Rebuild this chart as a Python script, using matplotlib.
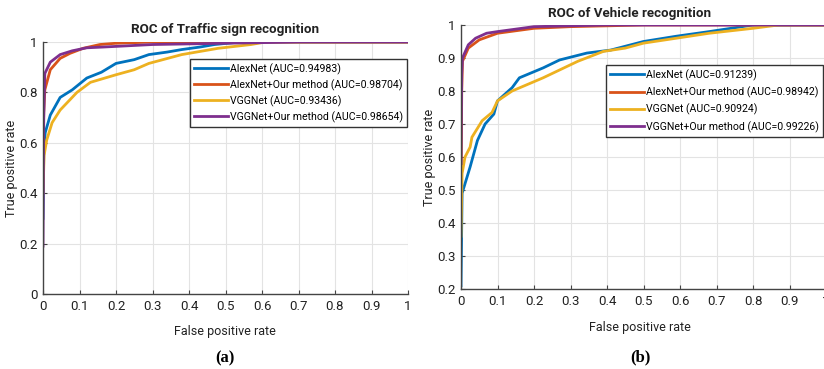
import matplotlib.pyplot as plt

plt.rcParams['font.family'] = ['Roboto', 'Liberation Sans', 'DejaVu Sans']

# colours (MATLAB default order)
c_alex = '#0072BD'
c_alex_our = '#D95319'
c_vgg = '#EDB120'
c_vgg_our = '#7E2F8E'

labels_a = ['AlexNet (AUC=0.94983)', 'AlexNet+Our method (AUC=0.98704)',
            'VGGNet (AUC=0.93436)', 'VGGNet+Our method (AUC=0.98654)']
labels_b = ['AlexNet (AUC=0.91239)', 'AlexNet+Our method (AUC=0.98942)',
            'VGGNet (AUC=0.90924)', 'VGGNet+Our method (AUC=0.99226)']

# (a) Traffic sign recognition
a_alex_fpr = [0, 0.002, 0.006, 0.02, 0.047, 0.08, 0.12, 0.16, 0.2, 0.25, 0.29, 0.34, 0.38, 0.43, 0.47, 0.54, 1]
a_alex_tpr = [0.30, 0.55, 0.64, 0.71, 0.78, 0.81, 0.857, 0.88, 0.915, 0.93, 0.95, 0.96, 0.97, 0.98, 0.99, 1.0, 1.0]
a_alexour_fpr = [0, 0.002, 0.005, 0.02, 0.047, 0.074, 0.11, 0.156, 0.2, 0.3, 1]
a_alexour_tpr = [0.46, 0.72, 0.81, 0.89, 0.935, 0.955, 0.975, 0.99, 0.995, 1.0, 1.0]
a_vgg_fpr = [0, 0.003, 0.01, 0.025, 0.047, 0.093, 0.13, 0.2, 0.25, 0.29, 0.38, 0.48, 0.57, 0.61, 1]
a_vgg_tpr = [0.40, 0.55, 0.61, 0.68, 0.73, 0.80, 0.84, 0.87, 0.89, 0.915, 0.95, 0.975, 0.99, 1.0, 1.0]
a_vggour_fpr = [0, 0.002, 0.005, 0.02, 0.047, 0.08, 0.12, 0.165, 0.3, 0.5, 0.7, 1]
a_vggour_tpr = [0.19, 0.70, 0.875, 0.92, 0.95, 0.965, 0.977, 0.98, 0.99, 0.995, 1.0, 1.0]

# (b) Vehicle recognition
b_alex_fpr = [0, 0.003, 0.025, 0.045, 0.066, 0.09, 0.1, 0.14, 0.16, 0.225, 0.27, 0.345, 0.41, 0.5, 0.59, 0.68, 0.77, 0.8, 1]
b_alex_tpr = [0.21, 0.49, 0.57, 0.65, 0.70, 0.73, 0.77, 0.81, 0.84, 0.87, 0.894, 0.915, 0.924, 0.95, 0.966, 0.98, 0.995, 1.0, 1.0]
b_alexour_fpr = [0, 0.002, 0.004, 0.02, 0.05, 0.075, 0.1, 0.2, 0.3, 0.5, 1]
b_alexour_tpr = [0.49, 0.80, 0.89, 0.93, 0.955, 0.965, 0.975, 0.99, 0.995, 1.0, 1.0]
b_vgg_fpr = [0, 0.003, 0.011, 0.025, 0.03, 0.058, 0.085, 0.1, 0.14, 0.225, 0.32, 0.39, 0.45, 0.5, 0.59, 0.68, 0.8, 0.87, 1]
b_vgg_tpr = [0.36, 0.55, 0.60, 0.63, 0.66, 0.71, 0.735, 0.77, 0.80, 0.84, 0.89, 0.92, 0.93, 0.945, 0.96, 0.975, 0.99, 1.0, 1.0]
b_vggour_fpr = [0, 0.002, 0.004, 0.02, 0.04, 0.07, 0.1, 0.2, 0.4, 1]
b_vggour_tpr = [0.58, 0.85, 0.90, 0.94, 0.96, 0.975, 0.98, 0.995, 1.0, 1.0]

fig = plt.figure(figsize=(8.24, 3.69), dpi=100)
W, H = 824, 369


def style_axes(ax, ylo, yticks):
    ax.set_xlim(0, 1)
    ax.set_ylim(ylo, 1)
    ax.set_xticks([i / 10 for i in range(11)])
    ax.set_xticklabels(['0'] + ['0.%d' % i for i in range(1, 10)] + ['1'])
    ax.set_yticks(yticks)
    ax.set_yticklabels(['%g' % t for t in yticks])
    ax.grid(True, color='#e3e3e3', linewidth=0.8)
    ax.set_axisbelow(True)
    for s in ['top', 'right']:
        ax.spines[s].set_visible(False)
    for s in ['left', 'bottom']:
        ax.spines[s].set_color('#444444')
        ax.spines[s].set_linewidth(1.0)
    ax.tick_params(direction='in', length=3, width=0.8, colors='#444444',
                   labelcolor='#222222', labelsize=9.5, pad=4)


def add_legend(ax, right, top, gap):
    ax.legend(loc='upper right', bbox_to_anchor=(right / W, 1 - top / H),
              bbox_transform=fig.transFigure, fontsize=7.6, frameon=True,
              fancybox=False, edgecolor='#333333', framealpha=1,
              handlelength=3.2, handletextpad=0.15, borderpad=0.4,
              labelspacing=gap, borderaxespad=0)


# panel (a)
ax1 = fig.add_axes([43 / W, 1 - 294 / H, 365 / W, 252 / H])
ax1.plot(a_alex_fpr, a_alex_tpr, color=c_alex, lw=2, label=labels_a[0])
ax1.plot(a_alexour_fpr, a_alexour_tpr, color=c_alex_our, lw=2, label=labels_a[1])
ax1.plot(a_vgg_fpr, a_vgg_tpr, color=c_vgg, lw=2, label=labels_a[2])
ax1.plot(a_vggour_fpr, a_vggour_tpr, color=c_vgg_our, lw=2, label=labels_a[3])
style_axes(ax1, 0, [0, 0.2, 0.4, 0.6, 0.8, 1])
add_legend(ax1, 407, 59, 0.42)

# panel (b)
ax2 = fig.add_axes([461 / W, 1 - 289 / H, 365 / W, 264 / H])
ax2.plot(b_alex_fpr, b_alex_tpr, color=c_alex, lw=2, label=labels_b[0])
ax2.plot(b_alexour_fpr, b_alexour_tpr, color=c_alex_our, lw=2, label=labels_b[1])
ax2.plot(b_vgg_fpr, b_vgg_tpr, color=c_vgg, lw=2, label=labels_b[2])
ax2.plot(b_vggour_fpr, b_vggour_tpr, color=c_vgg_our, lw=2, label=labels_b[3])
style_axes(ax2, 0.2, [0.2, 0.3, 0.4, 0.5, 0.6, 0.7, 0.8, 0.9, 1])
add_legend(ax2, 823, 65, 0.55)

# titles and axis labels
fig.text(225 / W, 1 - 30 / H, 'ROC of Traffic sign recognition', ha='center', va='center',
         fontsize=9.6, fontweight='bold', color='#222222')
fig.text(630 / W, 1 - 13 / H, 'ROC of Vehicle recognition', ha='center', va='center',
         fontsize=9.6, fontweight='bold', color='#222222')
fig.text(225 / W, 1 - 332 / H, 'False positive rate', ha='center', va='center',
         fontsize=9, color='#222222')
fig.text(640 / W, 1 - 328 / H, 'False positive rate', ha='center', va='center',
         fontsize=9, color='#222222')
fig.text(12 / W, 1 - 168 / H, 'True positive rate', ha='center', va='center',
         rotation=90, fontsize=9, color='#222222')
fig.text(430 / W, 1 - 157 / H, 'True positive rate', ha='center', va='center',
         rotation=90, fontsize=9, color='#222222')
fig.text(225 / W, 1 - 358 / H, '(a)', ha='center', va='center', fontsize=12,
         fontweight='bold', family='Liberation Serif')
fig.text(640 / W, 1 - 357 / H, '(b)', ha='center', va='center', fontsize=12,
         fontweight='bold', family='Liberation Serif')

fig.savefig('out.png', dpi=100)
